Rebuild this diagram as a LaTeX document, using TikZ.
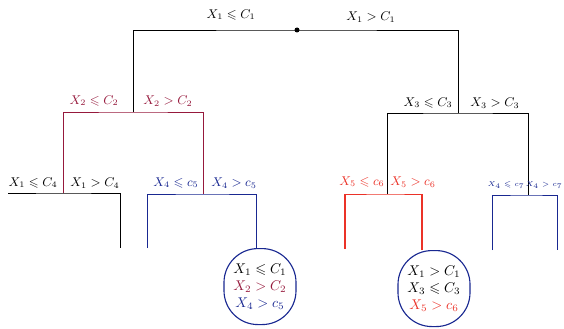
\documentclass[tikz,border=0pt]{standalone}
\usepackage{amsmath,amssymb}
\usepackage{tikz}

\definecolor{wine}{RGB}{150,25,60}
\definecolor{navy}{RGB}{25,40,145}
\definecolor{fire}{RGB}{235,50,40}

\tikzset{
  branch/.style={line width=0.65pt},
  cond/.style={inner sep=1pt, font=\small},
  leafbox/.style={draw=navy, line width=0.8pt, rounded corners=0.85cm,
    minimum width=1.8cm, minimum height=1.9cm, align=center, inner sep=1pt,
    font=\normalsize}
}

\begin{document}
\begin{tikzpicture}[x=0.025cm, y=-0.025cm]
  \useasboundingbox (0,0) rectangle (564,328);
  % split points
  \coordinate (root) at (297,30);
  \coordinate (n1) at (133,112);
  \coordinate (n2) at (458,113);
  \coordinate (n11) at (63,193);
  \coordinate (n12) at (203,194);
  \coordinate (n21) at (387,194);
  \coordinate (n22) at (528,195);
  % free ends
  \coordinate (a1) at (8,193);  \coordinate (a2) at (120,248);
  \coordinate (b1) at (147,248); \coordinate (b2) at (256,249);
  \coordinate (c1) at (345,249); \coordinate (c2) at (422,250);
  \coordinate (d1) at (492,250); \coordinate (d2) at (557,250);

  % first split
  \draw[branch] (n1) |- (root) -| (n2);
  \fill (root) circle (2.5);
  \node[cond] (t1) at (231,15) {$X_1 \leqslant C_1$};
  \node[cond] (t2) at (371,17) {$X_1 > C_1$};

  % second level
  \draw[branch, wine] (n11) |- (n1) -| (n12);
  \node[cond, wine] (t3) at (94,101) {$X_2 \leqslant C_2$};
  \node[cond, wine] (t4) at (168,101) {$X_2 > C_2$};
  \draw[branch] (n21) |- (n2) -| (n22);
  \node[cond] (t5) at (428,103) {$X_3 \leqslant C_3$};
  \node[cond] (t6) at (495,103) {$X_3 > C_3$};

  % third level
  \draw[branch] (a1) -- (n11) -| (a2);
  \node[cond] (t7) at (33,183) {$X_1 \leqslant C_4$};
  \node[cond] (t8) at (95,183) {$X_1 > C_4$};
  \draw[branch, navy] (b1) |- (n12) -| (b2);
  \node[cond, navy] (t9) at (176,183) {$X_4 \leqslant c_5$};
  \node[cond, navy] (t10) at (234,183) {$X_4 > c_5$};
  \draw[branch, fire] (c1) |- (n21) -| (c2);
  \draw[fire, line width=1.8pt] (c1) -- (c1 |- n21);
  \draw[fire, line width=1.8pt] (c2) -- (c2 |- n21);
  \node[cond, fire] (t11) at (362,182) {$X_5 \leqslant c_6$};
  \node[cond, fire] (t12) at (413,182) {$X_5 > c_6$};
  \draw[branch, navy] (d1) |- (n22) -| (d2);
  \node[cond, navy, font=\tiny, anchor=east] (t13) at (526,185) {$X_4 \leqslant c_7$};
  \node[cond, navy, font=\tiny, anchor=east] (t14) at (564,185) {$X_4 > c_7$};

  % leaves
  \node[leafbox, anchor=north] (leaf1) at (260,248)
    {$X_1 \leqslant C_1$\\ \textcolor{wine}{$X_2 > C_2$}\\ \textcolor{navy}{$X_4 > c_5$}};
  \node[leafbox, anchor=north] (leaf2) at (434,250)
    {$X_1 > C_1$\\ $X_3 \leqslant C_3$\\ \textcolor{fire}{$X_5 > c_6$}};
\end{tikzpicture}
\end{document}
